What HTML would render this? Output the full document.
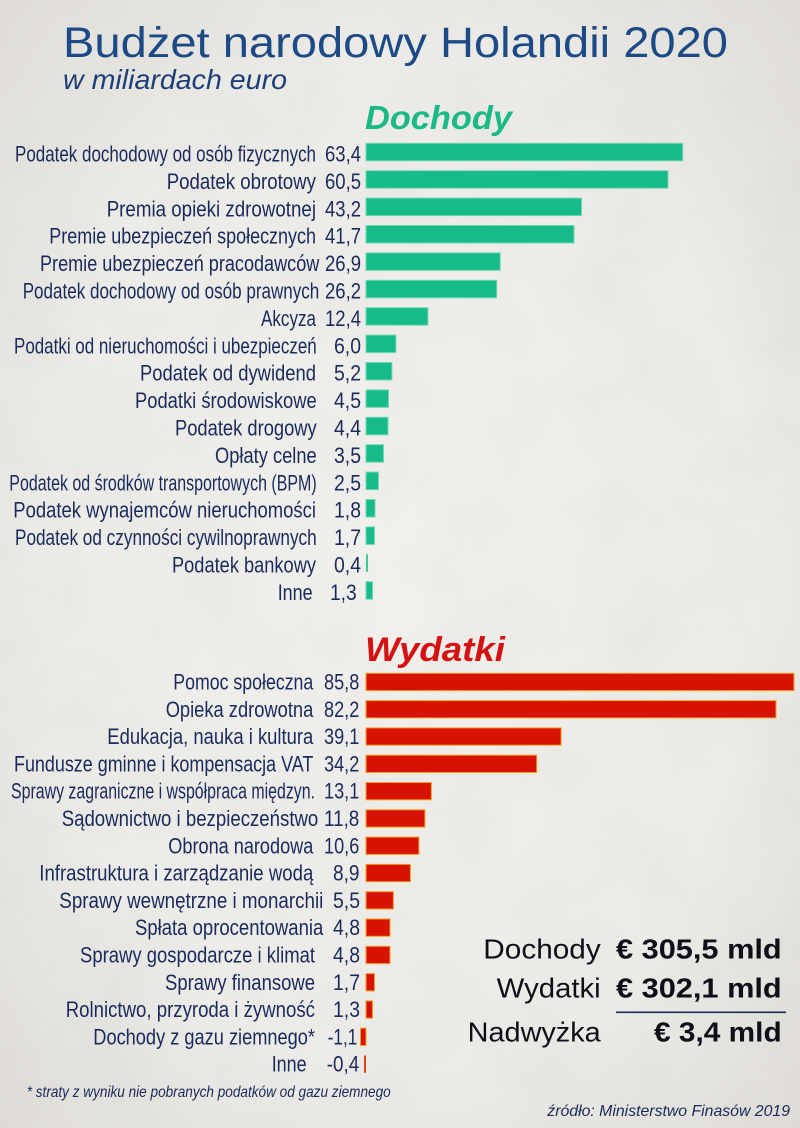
<!DOCTYPE html>
<html>
<head>
<meta charset="utf-8">
<style>
html,body{margin:0;padding:0;width:800px;height:1128px;overflow:hidden;background:#ecebe7;}
svg{display:block;}
.lbl{font-family:"Liberation Sans Narrow","Liberation Sans",sans-serif;font-size:22.5px;fill:#1b2a5c;}
.val{font-family:"Liberation Sans Narrow","Liberation Sans",sans-serif;font-size:22.5px;fill:#1b2a5c;}
.g{fill:#17bb89;stroke:#6fd8b4;stroke-width:1;}
.r{fill:#d81200;stroke:#f2a21a;stroke-width:1;}
.sum{font-family:"Liberation Sans",sans-serif;font-size:28px;fill:#0e0f18;}
.sumb{font-family:"Liberation Sans",sans-serif;font-size:28px;font-weight:bold;fill:#0e0f18;}
</style>
</head>
<body>
<svg width="800" height="1128" viewBox="0 0 800 1128" xmlns="http://www.w3.org/2000/svg">
<defs>
<radialGradient id="vig" cx="50%" cy="50%" r="75%">
<stop offset="0" stop-color="#f1f0ed"/>
<stop offset="0.6" stop-color="#ecebe7"/>
<stop offset="1" stop-color="#dcd9d3"/>
</radialGradient>
<filter id="noise" x="0" y="0" width="100%" height="100%">
<feTurbulence type="fractalNoise" baseFrequency="0.012" numOctaves="3" seed="4"/>
<feColorMatrix type="matrix" values="0 0 0 0 0.55  0 0 0 0 0.54  0 0 0 0 0.52  0 0 0 0.9 -0.35"/>
</filter>
</defs>
<rect width="800" height="1128" fill="url(#vig)"/>
<rect width="800" height="1128" filter="url(#noise)" opacity="0.25"/>

<!-- Title -->
<text x="63" y="57" font-family="Liberation Sans, sans-serif" font-size="43" fill="#1c4a86" textLength="665" lengthAdjust="spacingAndGlyphs">Budżet narodowy Holandii 2020</text>
<text x="63" y="89" font-family="Liberation Sans, sans-serif" font-size="28" font-style="italic" fill="#1c3f78" textLength="224" lengthAdjust="spacingAndGlyphs">w miliardach euro</text>

<!-- Dochody heading -->
<text x="365" y="129" font-family="Liberation Sans, sans-serif" font-size="33" font-weight="bold" font-style="italic" fill="#19ba86" textLength="147" lengthAdjust="spacingAndGlyphs">Dochody</text>

<!-- Dochody rows: top = 143.3 + i*27.4 -->
<g>
<rect class="g" x="366" y="143.3" width="316.7" height="17.5"/>
<text class="lbl" x="15" y="161.5" textLength="301" lengthAdjust="spacingAndGlyphs">Podatek dochodowy od osób fizycznych</text>
<text class="val" x="325" y="161.5" textLength="36" lengthAdjust="spacingAndGlyphs">63,4</text>

<rect class="g" x="366" y="170.7" width="302" height="17.5"/>
<text class="lbl" x="166.7" y="188.9" textLength="149.3" lengthAdjust="spacingAndGlyphs">Podatek obrotowy</text>
<text class="val" x="325" y="188.9" textLength="36" lengthAdjust="spacingAndGlyphs">60,5</text>

<rect class="g" x="366" y="198.1" width="215.5" height="17.5"/>
<text class="lbl" x="106.7" y="216.3" textLength="209.3" lengthAdjust="spacingAndGlyphs">Premia opieki zdrowotnej</text>
<text class="val" x="325" y="216.3" textLength="36" lengthAdjust="spacingAndGlyphs">43,2</text>

<rect class="g" x="366" y="225.5" width="208" height="17.5"/>
<text class="lbl" x="49.3" y="243.7" textLength="266.7" lengthAdjust="spacingAndGlyphs">Premie ubezpieczeń społecznych</text>
<text class="val" x="325" y="243.7" textLength="36" lengthAdjust="spacingAndGlyphs">41,7</text>

<rect class="g" x="366" y="252.9" width="134.2" height="17.5"/>
<text class="lbl" x="40" y="271.1" textLength="279.3" lengthAdjust="spacingAndGlyphs">Premie ubezpieczeń pracodawców</text>
<text class="val" x="325" y="271.1" textLength="36" lengthAdjust="spacingAndGlyphs">26,9</text>

<rect class="g" x="366" y="280.3" width="130.7" height="17.5"/>
<text class="lbl" x="22.7" y="298.5" textLength="296.6" lengthAdjust="spacingAndGlyphs">Podatek dochodowy od osób prawnych</text>
<text class="val" x="325" y="298.5" textLength="36" lengthAdjust="spacingAndGlyphs">26,2</text>

<rect class="g" x="366" y="307.7" width="61.9" height="17.5"/>
<text class="lbl" x="261" y="325.9" textLength="55" lengthAdjust="spacingAndGlyphs">Akcyza</text>
<text class="val" x="325" y="325.9" textLength="36" lengthAdjust="spacingAndGlyphs">12,4</text>

<rect class="g" x="366" y="335.1" width="29.9" height="17.5"/>
<text class="lbl" x="14" y="353.3" textLength="302.7" lengthAdjust="spacingAndGlyphs">Podatki od nieruchomości i ubezpieczeń</text>
<text class="val" x="334" y="353.3" textLength="27" lengthAdjust="spacingAndGlyphs">6,0</text>

<rect class="g" x="366" y="362.5" width="25.9" height="17.5"/>
<text class="lbl" x="140" y="380.7" textLength="176" lengthAdjust="spacingAndGlyphs">Podatek od dywidend</text>
<text class="val" x="334" y="380.7" textLength="27" lengthAdjust="spacingAndGlyphs">5,2</text>

<rect class="g" x="366" y="389.9" width="22.5" height="17.5"/>
<text class="lbl" x="135" y="408.1" textLength="181.7" lengthAdjust="spacingAndGlyphs">Podatki środowiskowe</text>
<text class="val" x="334" y="408.1" textLength="27" lengthAdjust="spacingAndGlyphs">4,5</text>

<rect class="g" x="366" y="417.3" width="22" height="17.5"/>
<text class="lbl" x="175" y="435.5" textLength="141.7" lengthAdjust="spacingAndGlyphs">Podatek drogowy</text>
<text class="val" x="334" y="435.5" textLength="27" lengthAdjust="spacingAndGlyphs">4,4</text>

<rect class="g" x="366" y="444.7" width="17.5" height="17.5"/>
<text class="lbl" x="215" y="462.9" textLength="101.7" lengthAdjust="spacingAndGlyphs">Opłaty celne</text>
<text class="val" x="334" y="462.9" textLength="27" lengthAdjust="spacingAndGlyphs">3,5</text>

<rect class="g" x="366" y="472.1" width="12.5" height="17.5"/>
<text class="lbl" x="9.3" y="490.3" textLength="307.4" lengthAdjust="spacingAndGlyphs">Podatek od środków transportowych (BPM)</text>
<text class="val" x="334" y="490.3" textLength="27" lengthAdjust="spacingAndGlyphs">2,5</text>

<rect class="g" x="366" y="499.5" width="9" height="17.5"/>
<text class="lbl" x="13.3" y="517.7" textLength="302.7" lengthAdjust="spacingAndGlyphs">Podatek wynajemców nieruchomości</text>
<text class="val" x="334" y="517.7" textLength="27" lengthAdjust="spacingAndGlyphs">1,8</text>

<rect class="g" x="366" y="526.9" width="8.5" height="17.5"/>
<text class="lbl" x="15" y="545.1" textLength="301.7" lengthAdjust="spacingAndGlyphs">Podatek od czynności cywilnoprawnych</text>
<text class="val" x="334" y="545.1" textLength="27" lengthAdjust="spacingAndGlyphs">1,7</text>

<rect x="366" y="554.3" width="2" height="17.5" fill="#3cc898"/>
<text class="lbl" x="172" y="572.5" textLength="144" lengthAdjust="spacingAndGlyphs">Podatek bankowy</text>
<text class="val" x="334" y="572.5" textLength="27" lengthAdjust="spacingAndGlyphs">0,4</text>

<rect class="g" x="366" y="581.7" width="6.5" height="17.5"/>
<text class="lbl" x="277.7" y="599.9" textLength="35" lengthAdjust="spacingAndGlyphs">Inne</text>
<text class="val" x="330" y="599.9" textLength="26.7" lengthAdjust="spacingAndGlyphs">1,3</text>
</g>

<!-- Wydatki heading -->
<text x="365" y="661" font-family="Liberation Sans, sans-serif" font-size="34" font-weight="bold" font-style="italic" fill="#d51212" textLength="140" lengthAdjust="spacingAndGlyphs">Wydatki</text>

<!-- Wydatki rows: top = 673.3 + i*27.3 -->
<g>
<rect class="r" x="366" y="673.3" width="428" height="17.3"/>
<text class="lbl" x="173.3" y="689.5" textLength="140" lengthAdjust="spacingAndGlyphs">Pomoc społeczna</text>
<text class="val" x="324" y="689.5" textLength="35.3" lengthAdjust="spacingAndGlyphs">85,8</text>

<rect class="r" x="366" y="700.6" width="410" height="17.3"/>
<text class="lbl" x="165.7" y="716.8" textLength="147.6" lengthAdjust="spacingAndGlyphs">Opieka zdrowotna</text>
<text class="val" x="324" y="716.8" textLength="35.3" lengthAdjust="spacingAndGlyphs">82,2</text>

<rect class="r" x="366" y="727.9" width="195.1" height="17.3"/>
<text class="lbl" x="107.3" y="744.1" textLength="206" lengthAdjust="spacingAndGlyphs">Edukacja, nauka i kultura</text>
<text class="val" x="324" y="744.1" textLength="35.3" lengthAdjust="spacingAndGlyphs">39,1</text>

<rect class="r" x="366" y="755.2" width="170.7" height="17.3"/>
<text class="lbl" x="14" y="771.4" textLength="299.3" lengthAdjust="spacingAndGlyphs">Fundusze gminne i kompensacja VAT</text>
<text class="val" x="324" y="771.4" textLength="35.3" lengthAdjust="spacingAndGlyphs">34,2</text>

<rect class="r" x="366" y="782.5" width="65.4" height="17.3"/>
<text class="lbl" x="11" y="798.7" textLength="304" lengthAdjust="spacingAndGlyphs">Sprawy zagraniczne i współpraca międzyn.</text>
<text class="val" x="324" y="798.7" textLength="35.3" lengthAdjust="spacingAndGlyphs">13,1</text>

<rect class="r" x="366" y="809.8" width="58.9" height="17.3"/>
<text class="lbl" x="61.7" y="826" textLength="256.6" lengthAdjust="spacingAndGlyphs">Sądownictwo i bezpieczeństwo</text>
<text class="val" x="324" y="826" textLength="35.3" lengthAdjust="spacingAndGlyphs">11,8</text>

<rect class="r" x="366" y="837.1" width="52.9" height="17.3"/>
<text class="lbl" x="168.3" y="853.3" textLength="145" lengthAdjust="spacingAndGlyphs">Obrona narodowa</text>
<text class="val" x="324" y="853.3" textLength="35.3" lengthAdjust="spacingAndGlyphs">10,6</text>

<rect class="r" x="366" y="864.4" width="44.4" height="17.3"/>
<text class="lbl" x="39.3" y="880.6" textLength="274" lengthAdjust="spacingAndGlyphs">Infrastruktura i zarządzanie wodą</text>
<text class="val" x="333" y="880.6" textLength="26.5" lengthAdjust="spacingAndGlyphs">8,9</text>

<rect class="r" x="366" y="891.7" width="27.4" height="17.3"/>
<text class="lbl" x="59.3" y="907.9" textLength="264" lengthAdjust="spacingAndGlyphs">Sprawy wewnętrzne i monarchii</text>
<text class="val" x="333" y="907.9" textLength="27" lengthAdjust="spacingAndGlyphs">5,5</text>

<rect class="r" x="366" y="919" width="24" height="17.3"/>
<text class="lbl" x="135" y="935.2" textLength="188.3" lengthAdjust="spacingAndGlyphs">Spłata oprocentowania</text>
<text class="val" x="333" y="935.2" textLength="27" lengthAdjust="spacingAndGlyphs">4,8</text>

<rect class="r" x="366" y="946.3" width="24" height="17.3"/>
<text class="lbl" x="80" y="962.5" textLength="235" lengthAdjust="spacingAndGlyphs">Sprawy gospodarcze i klimat</text>
<text class="val" x="333" y="962.5" textLength="27" lengthAdjust="spacingAndGlyphs">4,8</text>

<rect class="r" x="366" y="973.6" width="8.5" height="17.3"/>
<text class="lbl" x="165" y="989.8" textLength="150" lengthAdjust="spacingAndGlyphs">Sprawy finansowe</text>
<text class="val" x="333" y="989.8" textLength="27" lengthAdjust="spacingAndGlyphs">1,7</text>

<rect class="r" x="366" y="1000.9" width="6.5" height="17.3"/>
<text class="lbl" x="65.7" y="1017.1" textLength="249.3" lengthAdjust="spacingAndGlyphs">Rolnictwo, przyroda i żywność</text>
<text class="val" x="333" y="1017.1" textLength="27" lengthAdjust="spacingAndGlyphs">1,3</text>

<rect class="r" x="360.5" y="1028.2" width="5.5" height="17.3"/>
<text class="lbl" x="93.3" y="1044.4" textLength="221.7" lengthAdjust="spacingAndGlyphs">Dochody z gazu ziemnego*</text>
<text class="val" x="327.7" y="1044.4" textLength="29.6" lengthAdjust="spacingAndGlyphs">-1,1</text>

<rect x="364" y="1055.5" width="2" height="17.3" fill="#e0400a"/>
<text class="lbl" x="271.7" y="1071.7" textLength="35" lengthAdjust="spacingAndGlyphs">Inne</text>
<text class="val" x="326.7" y="1071.7" textLength="32.5" lengthAdjust="spacingAndGlyphs">-0,4</text>
</g>

<!-- Footnote -->
<text x="26.7" y="1097" font-family="Liberation Sans Narrow, Liberation Sans, sans-serif" font-size="16" font-style="italic" fill="#1b2a5c" textLength="364" lengthAdjust="spacingAndGlyphs">* straty z wyniku nie pobranych podatków od gazu ziemnego</text>

<!-- Summary -->
<text class="sum" x="483.3" y="958.3" textLength="117.4" lengthAdjust="spacingAndGlyphs">Dochody</text>
<text class="sumb" x="616" y="958.3" textLength="165.7" lengthAdjust="spacingAndGlyphs">€ 305,5 mld</text>
<text class="sum" x="496.7" y="997.7" textLength="104" lengthAdjust="spacingAndGlyphs">Wydatki</text>
<text class="sumb" x="616" y="997.7" textLength="165.7" lengthAdjust="spacingAndGlyphs">€ 302,1 mld</text>
<rect x="616" y="1011.5" width="170" height="1.6" fill="#1b2a5c"/>
<text class="sum" x="467.7" y="1041.7" textLength="133" lengthAdjust="spacingAndGlyphs">Nadwyżka</text>
<text class="sumb" x="654" y="1041.7" textLength="127.7" lengthAdjust="spacingAndGlyphs">€ 3,4 mld</text>

<!-- Source -->
<text x="547.3" y="1116" font-family="Liberation Sans, sans-serif" font-size="16" font-style="italic" fill="#1b2a5c" textLength="242.7" lengthAdjust="spacingAndGlyphs">źródło: Ministerstwo Finasów 2019</text>
</svg>
</body>
</html>
